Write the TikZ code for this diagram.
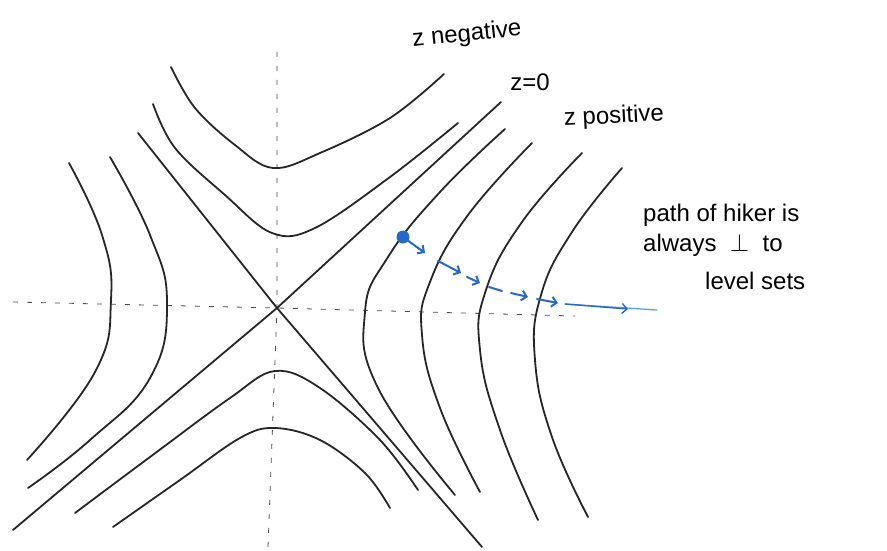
\documentclass[tikz,border=0pt]{standalone}
\usepackage{fontspec}
\setmainfont{Liberation Sans}
\usetikzlibrary{arrows.meta}
\definecolor{hiker}{RGB}{40,105,200}
\definecolor{hikerlight}{RGB}{80,155,235}
\begin{document}
\begin{tikzpicture}[x=1pt,y=-1pt,
  levelset/.style={line width=1.8pt, black!85, line cap=round, line join=round},
  axisline/.style={line width=0.8pt, black!70, dash pattern=on 5pt off 9pt},
  hikerarrow/.style={line width=2pt, hiker, line cap=round, -{Straight Barb[length=5pt,width=10pt]}},
  hikertail/.style={line width=1.2pt, hikerlight, line cap=round},
  lbl/.style={font=\fontsize{24}{28}\selectfont, inner sep=0pt}]
\useasboundingbox (0,0) rectangle (887,551);

% axes
\coordinate (hl) at (13,302);
\coordinate (hr) at (575,316);
\coordinate (vt) at (277,52);
\coordinate (vb) at (268,547);
\coordinate (o) at (277,308);
\draw[axisline] (hl) -- (o) -- (hr);
\draw[axisline] (vt) -- (o) -- (vb);

% z = 0 diagonals
\draw[levelset] (13,530) -- (o) -- (501,102);
\draw[levelset] (138,133) -- (o) -- (482,547);

% top branches (z negative)
\draw[levelset] plot[smooth, tension=0.6] coordinates {(171,67) (195,108) (235,145) (273,168) (320,153) (390,118) (444,74)};
\draw[levelset] plot[smooth, tension=0.6] coordinates {(153,104) (175,148) (225,195) (272,233) (315,228) (390,177) (458,123)};
% bottom branches (z negative)
\draw[levelset] plot[smooth, tension=0.6] coordinates {(75,513) (150,457) (230,398) (275,371) (320,388) (380,440) (418,490)};
\draw[levelset] plot[smooth, tension=0.6] coordinates {(113,527) (180,480) (240,438) (275,428) (320,440) (365,473) (390,508)};

% left branches (z positive)
\draw[levelset] plot[smooth, tension=0.75] coordinates {(69,163) (102,235) (111,300) (95,372) (27,460)};
\draw[levelset] plot[smooth, tension=0.75] coordinates {(110,157) (150,235) (167,303) (150,378) (90,440) (28,488)};

% right branches (z positive)
\draw[levelset] plot[smooth, tension=0.75] coordinates {(505,129) (440,192) (388,257) (365,312) (378,388) (455,495)};
\draw[levelset] plot[smooth, tension=0.75] coordinates {(532,143) (468,215) (430,282) (422,335) (440,408) (480,492)};
\draw[levelset] plot[smooth, tension=0.75] coordinates {(582,153) (522,222) (486,290) (480,350) (500,430) (538,520)};
\draw[levelset] plot[smooth, tension=0.75] coordinates {(622,168) (572,232) (541,295) (535,360) (552,437) (588,517)};

% hiker path
\coordinate (p0) at (403,237);
\coordinate (a1) at (425,253);
\coordinate (s2) at (438,261);
\coordinate (a2) at (461,273);
\coordinate (s3) at (467,277);
\coordinate (a3) at (480,283);
\coordinate (s4) at (489,287);
\coordinate (e4) at (502,291);
\coordinate (s5) at (511,293);
\coordinate (a5) at (528,297);
\coordinate (s6) at (537,299);
\coordinate (a6) at (558,303);
\coordinate (s7) at (565,304);
\coordinate (a7) at (628,309);
\coordinate (e7) at (657,310);
\fill[hiker] (p0) circle (6.5pt);
\draw[hikerarrow] (p0) -- (a1);
\draw[hikerarrow] (s2) -- (a2);
\draw[hikerarrow] (s3) -- (a3);
\draw[line width=2pt, hiker, line cap=round] (s4) -- (e4);
\draw[hikerarrow] (s5) -- (a5);
\draw[hikerarrow] (s6) -- (a6);
\draw[hikertail] (s7) -- (e7);
\draw[line width=1.4pt, hiker, -{Straight Barb[length=5pt,width=10pt]}] (s7) -- (a7);

% labels
\node[lbl, rotate=6] (zneg) at (467,35) {z negative};
\node[lbl] (zzero) at (530,82) {z=0};
\node[lbl, rotate=3] (zpos) at (614,117) {z positive};
\node[lbl, anchor=west] (note1) at (643,215) {path of hiker is};
\node[lbl, anchor=west] (note2) at (643,245) {always\ \ $\perp$\ \ to};
\node[lbl, anchor=west] (note3) at (705,281) {level sets};
\end{tikzpicture}
\end{document}
